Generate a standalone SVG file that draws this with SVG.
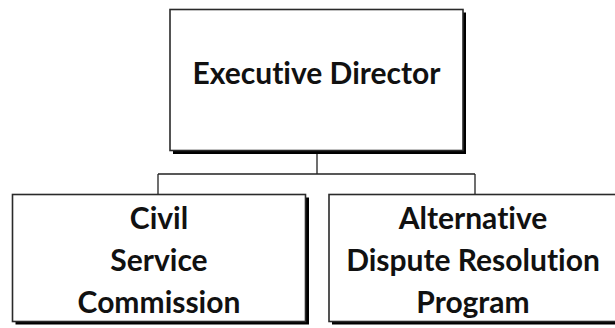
<svg xmlns="http://www.w3.org/2000/svg" width="615" height="328" viewBox="0 0 615 328">
<style>
.shadow{fill:#000}
.box{fill:#fff;stroke:#2a2a2a;stroke-width:1.6}
.t{font-family:Lato,"Open Sans","Liberation Sans",sans-serif;font-weight:bold;fill:#111;text-anchor:middle;font-variant-ligatures:none}
.t1{font-size:30px}
.t2{font-size:30px}
.conn{stroke:#222;stroke-width:1.3;fill:none}
</style>
<rect width="615" height="328" fill="#fff"/>
<g id="connectors">
<path class="conn" d="M317,153 V174 M158,174 H475 M158,174 V195 M475,174 V195"/>
</g>
<g id="node-executive-director">
<rect class="shadow" x="173" y="12.5" width="293" height="141.5"/>
<rect class="box" x="170" y="9.5" width="293" height="141"/>
<text class="t t1" x="316.5" y="84">Executive Director</text>
</g>
<g id="node-civil-service-commission">
<rect class="shadow" x="15.5" y="197.5" width="293.5" height="127"/>
<rect class="box" x="12.5" y="194.5" width="293" height="127"/>
<text class="t t2" x="159" y="229">Civil</text>
<text class="t t2" x="159" y="271">Service</text>
<text class="t t2" x="159" y="313">Commission</text>
</g>
<g id="node-adr-program">
<rect class="shadow" x="332" y="197.5" width="290" height="127"/>
<rect class="box" x="329" y="194.5" width="290" height="127"/>
<text class="t t2" x="473" y="229">Alternative</text>
<text class="t t2" x="473" y="271">Dispute Resolution</text>
<text class="t t2" x="473" y="313">Program</text>
</g>
</svg>
